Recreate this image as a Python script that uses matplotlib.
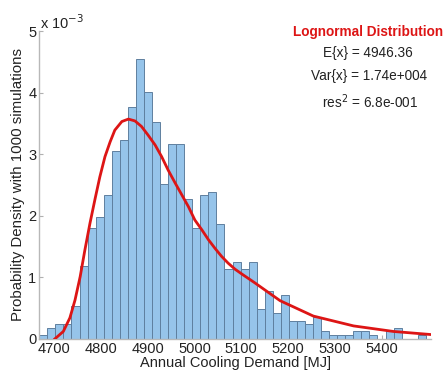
import matplotlib
matplotlib.use("Agg")
import matplotlib.pyplot as plt
import numpy as np

plt.rcParams['font.family'] = ['Liberation Sans', 'DejaVu Sans']

# histogram densities (x 1e-3), 48 bins
density = [0.065, 0.174, 0.239, 0.239, 0.536, 1.19, 1.80, 1.98, 2.33, 3.05,
           3.23, 3.77, 4.545, 4.01, 3.53, 2.52, 3.17, 3.17, 2.27, 1.80,
           2.33, 2.39, 1.86, 1.13, 1.25, 1.13, 1.25, 0.48, 0.77, 0.42,
           0.71, 0.29, 0.29, 0.24, 0.35, 0.12, 0.06, 0.06, 0.06, 0.12,
           0.12, 0.06, 0.0, 0.12, 0.18, 0.0, 0.0, 0.06]
bin_start = 4668.6
bin_width = 17.2

# fitted lognormal curve
fit_x = [4702, 4720, 4734, 4745, 4756, 4766, 4777, 4788, 4798, 4809,
         4820, 4830, 4845, 4859, 4873, 4887, 4901, 4916, 4930, 4944,
         4959, 4973, 4987, 5001, 5016, 5030, 5044, 5058, 5072, 5087,
         5100, 5129, 5183, 5254, 5340, 5425, 5505]
fit_y = [0.0, 0.12, 0.34, 0.63, 1.01, 1.44, 1.88, 2.28, 2.63, 2.96,
         3.20, 3.39, 3.53, 3.57, 3.54, 3.45, 3.31, 3.15, 2.96, 2.74,
         2.53, 2.34, 2.15, 1.93, 1.77, 1.61, 1.47, 1.34, 1.23, 1.13,
         1.06, 0.91, 0.62, 0.37, 0.21, 0.12, 0.07]

x_ticks = [4700, 4800, 4900, 5000, 5100, 5200, 5300, 5400]
y_ticks = [0, 1, 2, 3, 4, 5]

fig = plt.figure(figsize=(4.46, 3.74), dpi=100)
ax = fig.add_axes([0.088, 0.094, 0.878, 0.823])

lefts = bin_start + bin_width * np.arange(len(density))
ax.bar(lefts, density, width=bin_width, align='edge',
       facecolor='#96c4ea', edgecolor='#5f7f9f', linewidth=0.7, zorder=2)
ax.plot(fit_x, fit_y, color='#dd1515', linewidth=2, zorder=3,
        solid_joinstyle='round')

ax.set_xlim(4668.6, 5505)
ax.set_ylim(0, 5)
ax.set_xticks(x_ticks)
ax.set_yticks(y_ticks)
ax.tick_params(direction='in', length=3, color='#b0b0b0', labelsize=10.5,
               labelcolor='#222222', pad=2)
for s in ['top', 'right']:
    ax.spines[s].set_visible(False)
for s in ['left', 'bottom']:
    ax.spines[s].set_color('#b8b8b8')
    ax.spines[s].set_linewidth(1)

ax.set_xlabel('Annual Cooling Demand [MJ]', fontsize=10.5, color='#222222',
              labelpad=0)
ax.set_ylabel('Probability Density with 1000 simulations', fontsize=10.8,
              color='#222222', labelpad=2)
fig.text(0.09, 0.94, r'x 10$^{-3}$', fontsize=10.5, color='#222222',
         ha='left', va='center')

fig.text(0.825, 0.914, 'Lognormal Distribution', color='#dd1515',
         fontsize=9.8, fontweight='bold', ha='center', va='center')
fig.text(0.825, 0.858, 'E{x} = 4946.36', fontsize=9.8, color='#222222',
         ha='center', va='center')
fig.text(0.828, 0.797, 'Var{x} = 1.74e+004', fontsize=9.8, color='#222222',
         ha='center', va='center')
fig.text(0.83, 0.727, r'res$^2$ = 6.8e-001', fontsize=9.8, color='#222222',
         ha='center', va='center')

fig.savefig('out.png', dpi=100)
